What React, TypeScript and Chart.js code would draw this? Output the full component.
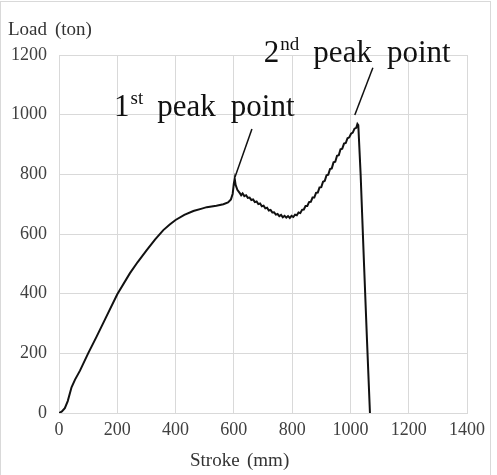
import React, { useEffect, useRef } from "react";
import { Chart, registerables } from "chart.js";

Chart.register(...registerables);

// Stroke (mm) and load (ton)
const strokeMm = [
  0, 10, 20, 30, 43, 55, 72, 100, 129, 160, 200, 243, 270, 301, 330, 358, 380, 400,
  430, 461, 490, 507, 540, 564, 580, 590, 596, 600, 603, 606, 612, 621,
  625, 630, 636, 642, 648, 654, 660, 666, 672, 678, 684, 690, 696, 702, 708, 714,
  720, 726, 732, 738, 744, 750, 756, 762, 768, 774, 780, 786, 792, 798, 804, 810,
  816, 822, 828, 834, 840, 846, 852, 858, 864, 870, 876, 882, 888, 894, 900, 906,
  912, 918, 924, 930, 936, 942, 948, 954, 960, 966, 972, 978, 984, 990, 996, 1002,
  1008, 1014, 1020, 1024, 1027, 1035, 1047, 1057, 1067,
];
const loadTon = [
  0, 5, 16, 40, 86, 112, 142, 200, 256, 318, 398, 468, 506, 546, 582, 613, 632, 647,
  664, 677, 685, 690, 695, 700, 706, 716, 735, 770, 785, 765, 748, 736,
  730, 736, 727, 730, 721, 722, 714, 716, 707, 709, 700, 702, 693, 695, 686, 688,
  679, 681, 672, 673, 665, 667, 660, 664, 656, 661, 655, 660, 654, 661, 657, 665,
  663, 672, 670, 681, 682, 694, 694, 707, 708, 722, 722, 738, 739, 756, 757, 775,
  778, 797, 799, 818, 820, 840, 842, 862, 864, 884, 886, 903, 905, 921, 924, 936,
  940, 953, 956, 969, 965, 800, 490, 240, 0,
];

const xTicks = [0, 200, 400, 600, 800, 1000, 1200, 1400];
const yTicks = [0, 200, 400, 600, 800, 1000, 1200];

const xTitleWords = ["Stroke", "(mm)"];
const yTitleWords = ["Load", "(ton)"];

// Annotation labels anchored in data units (stroke, load)
const peakNumbers = ["1", "2"];
const peakSuffixes = ["st", "nd"];
const peakWords = ["peak", "point"];
const labelAnchorStroke = [189, 703];
const labelAnchorLoad = [995, 1177];
const leaderFromStroke = [662, 1077];
const leaderFromLoad = [952, 1157];
const leaderToStroke = [604, 1015];
const leaderToLoad = [791, 999];

const SERIF = '"Liberation Serif", "Times New Roman", serif';

const textPlugin = {
  id: "textPlugin",
  beforeDraw(chart: any) {
    const ctx = chart.ctx;
    ctx.save();
    ctx.fillStyle = "#ffffff";
    ctx.fillRect(0, 0, chart.width, chart.height);
    ctx.strokeStyle = "#d9d9d9";
    ctx.lineWidth = 1;
    ctx.strokeRect(0.5, 1.5, 490, 490);
    ctx.restore();
  },
  afterDraw(chart: any) {
    const ctx = chart.ctx;
    const xs = chart.scales.x;
    const ys = chart.scales.y;
    ctx.save();
    ctx.fillStyle = "#333333";
    ctx.textBaseline = "alphabetic";
    ctx.textAlign = "left";
    ctx.font = `19px ${SERIF}`;
    // y title
    ctx.fillText(yTitleWords[0], 8, 35);
    ctx.fillText(yTitleWords[1], 55, 35);
    // x title
    ctx.fillText(xTitleWords[0], 190, 466);
    ctx.fillText(xTitleWords[1], 247, 466);

    // annotations
    ctx.fillStyle = "#111111";
    for (let i = 0; i < peakNumbers.length; i++) {
      let x = xs.getPixelForValue(labelAnchorStroke[i]);
      const y = ys.getPixelForValue(labelAnchorLoad[i]);
      ctx.font = `31px ${SERIF}`;
      ctx.fillText(peakNumbers[i], x, y);
      x += ctx.measureText(peakNumbers[i]).width + 1;
      ctx.font = `19px ${SERIF}`;
      ctx.fillText(peakSuffixes[i], x, y - 12);
      x += ctx.measureText(peakSuffixes[i]).width + 14;
      ctx.font = `31px ${SERIF}`;
      ctx.fillText(peakWords[0], x, y);
      x += ctx.measureText(peakWords[0]).width + 15;
      ctx.fillText(peakWords[1], x, y);

      ctx.strokeStyle = "#111111";
      ctx.lineWidth = 1.5;
      ctx.beginPath();
      ctx.moveTo(xs.getPixelForValue(leaderFromStroke[i]), ys.getPixelForValue(leaderFromLoad[i]));
      ctx.lineTo(xs.getPixelForValue(leaderToStroke[i]), ys.getPixelForValue(leaderToLoad[i]));
      ctx.stroke();
    }
    ctx.restore();
  },
};

export default function App() {
  const canvasRef = useRef<HTMLCanvasElement | null>(null);

  useEffect(() => {
    if (!canvasRef.current) return;
    const points = strokeMm.map((s, i) => ({ x: s, y: loadTon[i] }));
    const chart = new Chart(canvasRef.current, {
      type: "line",
      data: {
        datasets: [
          {
            data: points,
            borderColor: "#111111",
            borderWidth: 2,
            pointRadius: 0,
            tension: 0,
            fill: false,
          },
        ],
      },
      options: {
        animation: false,
        responsive: false,
        maintainAspectRatio: false,
        layout: { padding: { top: 55, right: 30, left: 0, bottom: 0 } },
        plugins: { legend: { display: false }, tooltip: { enabled: false }, title: { display: false } },
        scales: {
          x: {
            type: "linear",
            min: 0,
            max: 1400,
            afterBuildTicks: (s: any) => {
              s.ticks = xTicks.map((v) => ({ value: v }));
            },
            afterFit: (s: any) => {
              s.height = 62;
            },
            ticks: {
              font: { family: SERIF, size: 18 },
              color: "#404040",
              padding: 6,
              maxRotation: 0,
              autoSkip: false,
              callback: (v: any) => String(v),
            },
            grid: { color: "#d9d9d9", drawTicks: false, lineWidth: 1 },
            border: { color: "#d9d9d9" },
          },
          y: {
            type: "linear",
            min: 0,
            max: 1200,
            afterBuildTicks: (s: any) => {
              s.ticks = yTicks.map((v) => ({ value: v }));
            },
            afterFit: (s: any) => {
              s.width = 59;
            },
            ticks: {
              font: { family: SERIF, size: 18 },
              color: "#404040",
              padding: 12,
              autoSkip: false,
              callback: (v: any) => String(v),
            },
            grid: { color: "#d9d9d9", drawTicks: false, lineWidth: 1 },
            border: { color: "#d9d9d9" },
          },
        },
      },
      plugins: [textPlugin],
    });
    return () => chart.destroy();
  }, []);

  return (
    <div style={{ position: "fixed", left: 0, top: 0, width: 497, height: 475, background: "#fff" }}>
      <canvas ref={canvasRef} width={497} height={475} style={{ display: "block" }} />
    </div>
  );
}
